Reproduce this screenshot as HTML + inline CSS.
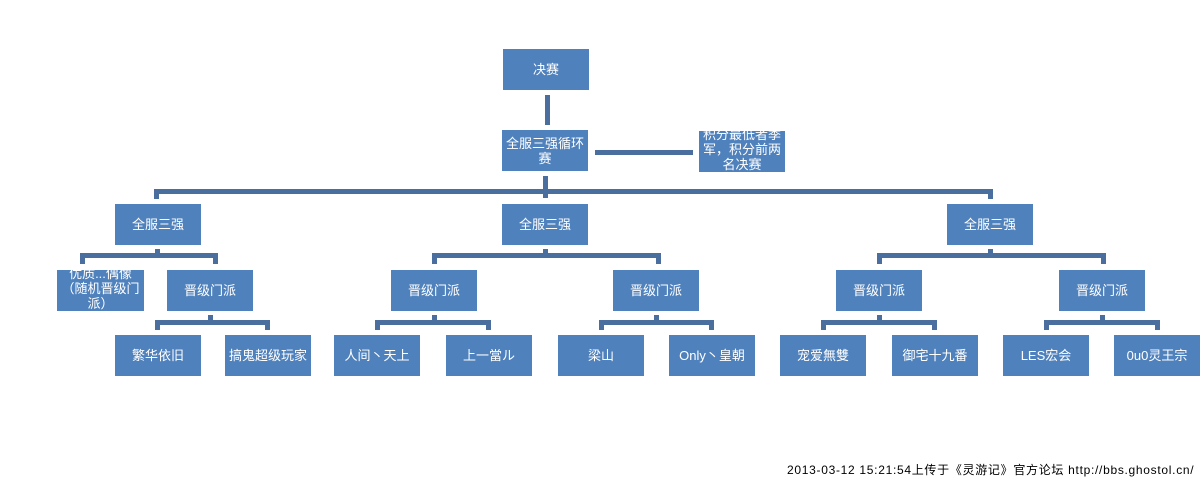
<!DOCTYPE html>
<html><head><meta charset="utf-8"><style>
body{margin:0;width:1202px;height:484px;background:#fff;position:relative;overflow:hidden;font-family:"Liberation Sans","Noto Sans CJK SC",sans-serif}
.b{position:absolute;background:#4F81BD;color:#fff;font-size:13px;display:flex;align-items:center;justify-content:center;text-align:center;line-height:15px;width:86px;height:41px;overflow:hidden}
.l{position:absolute;background:#4A6E9E}
.f{position:absolute;left:787px;top:461px;font-size:12px;color:#000;white-space:nowrap;letter-spacing:0.7px}
</style></head><body>
<div class="b" style="left:503px;top:49px">决赛</div>
<div class="b" style="left:502px;top:130px">全服三强循环<br>赛</div>
<div class="b" style="left:699px;top:131px;align-items:flex-start"><div style="margin-top:-4px">积分最低者季<br>军，积分前两<br>名决赛</div></div>
<div class="l" style="left:545px;top:95px;width:5px;height:30px"></div>
<div class="l" style="left:595px;top:150px;width:98px;height:5px"></div>

<div class="l" style="left:543px;top:176px;width:5px;height:22px"></div>
<div class="l" style="left:154px;top:189px;width:839px;height:5px"></div>
<div class="l" style="left:154px;top:189px;width:5px;height:10px"></div>
<div class="l" style="left:988px;top:189px;width:5px;height:10px"></div>

<div class="b" style="left:115px;top:204px">全服三强</div>
<div class="b" style="left:502px;top:204px">全服三强</div>
<div class="b" style="left:947px;top:204px">全服三强</div>

<div class="l" style="left:155px;top:249px;width:5px;height:8px"></div>
<div class="l" style="left:80px;top:253px;width:138px;height:5px"></div>
<div class="l" style="left:80px;top:253px;width:5px;height:11px"></div>
<div class="l" style="left:213px;top:253px;width:5px;height:11px"></div>

<div class="l" style="left:543px;top:249px;width:5px;height:8px"></div>
<div class="l" style="left:432px;top:253px;width:229px;height:5px"></div>
<div class="l" style="left:432px;top:253px;width:5px;height:11px"></div>
<div class="l" style="left:656px;top:253px;width:5px;height:11px"></div>

<div class="l" style="left:988px;top:249px;width:5px;height:8px"></div>
<div class="l" style="left:877px;top:253px;width:229px;height:5px"></div>
<div class="l" style="left:877px;top:253px;width:5px;height:11px"></div>
<div class="l" style="left:1101px;top:253px;width:5px;height:11px"></div>

<div class="b" style="left:57px;top:270px;width:87px;line-height:15px"><div style="margin-top:-4px">优质...偶像<br>（随机晋级门<br>派）</div></div>
<div class="b" style="left:167px;top:270px">晋级门派</div>
<div class="b" style="left:391px;top:270px">晋级门派</div>
<div class="b" style="left:613px;top:270px">晋级门派</div>
<div class="b" style="left:836px;top:270px">晋级门派</div>
<div class="b" style="left:1059px;top:270px">晋级门派</div>

<div class="l" style="left:208px;top:315px;width:5px;height:8px"></div>
<div class="l" style="left:155px;top:320px;width:115px;height:5px"></div>
<div class="l" style="left:155px;top:320px;width:5px;height:10px"></div>
<div class="l" style="left:265px;top:320px;width:5px;height:10px"></div>

<div class="l" style="left:432px;top:315px;width:5px;height:8px"></div>
<div class="l" style="left:375px;top:320px;width:116px;height:5px"></div>
<div class="l" style="left:375px;top:320px;width:5px;height:10px"></div>
<div class="l" style="left:486px;top:320px;width:5px;height:10px"></div>

<div class="l" style="left:654px;top:315px;width:5px;height:8px"></div>
<div class="l" style="left:599px;top:320px;width:115px;height:5px"></div>
<div class="l" style="left:599px;top:320px;width:5px;height:10px"></div>
<div class="l" style="left:709px;top:320px;width:5px;height:10px"></div>

<div class="l" style="left:877px;top:315px;width:5px;height:8px"></div>
<div class="l" style="left:821px;top:320px;width:116px;height:5px"></div>
<div class="l" style="left:821px;top:320px;width:5px;height:10px"></div>
<div class="l" style="left:932px;top:320px;width:5px;height:10px"></div>

<div class="l" style="left:1100px;top:315px;width:5px;height:8px"></div>
<div class="l" style="left:1044px;top:320px;width:116px;height:5px"></div>
<div class="l" style="left:1044px;top:320px;width:5px;height:10px"></div>
<div class="l" style="left:1155px;top:320px;width:5px;height:10px"></div>

<div class="b" style="left:115px;top:335px">繁华依旧</div>
<div class="b" style="left:225px;top:335px">搞鬼超级玩家</div>
<div class="b" style="left:334px;top:335px">人间丶天上</div>
<div class="b" style="left:446px;top:335px">上一當ル</div>
<div class="b" style="left:558px;top:335px">梁山</div>
<div class="b" style="left:669px;top:335px">Only丶皇朝</div>
<div class="b" style="left:780px;top:335px">宠爱無雙</div>
<div class="b" style="left:892px;top:335px">御宅十九番</div>
<div class="b" style="left:1003px;top:335px">LES宏会</div>
<div class="b" style="left:1114px;top:335px">0u0灵王宗</div>

<div class="f">2013-03-12 15:21:54上传于《灵游记》官方论坛 http://bbs.ghostol.cn/</div>
</body></html>
